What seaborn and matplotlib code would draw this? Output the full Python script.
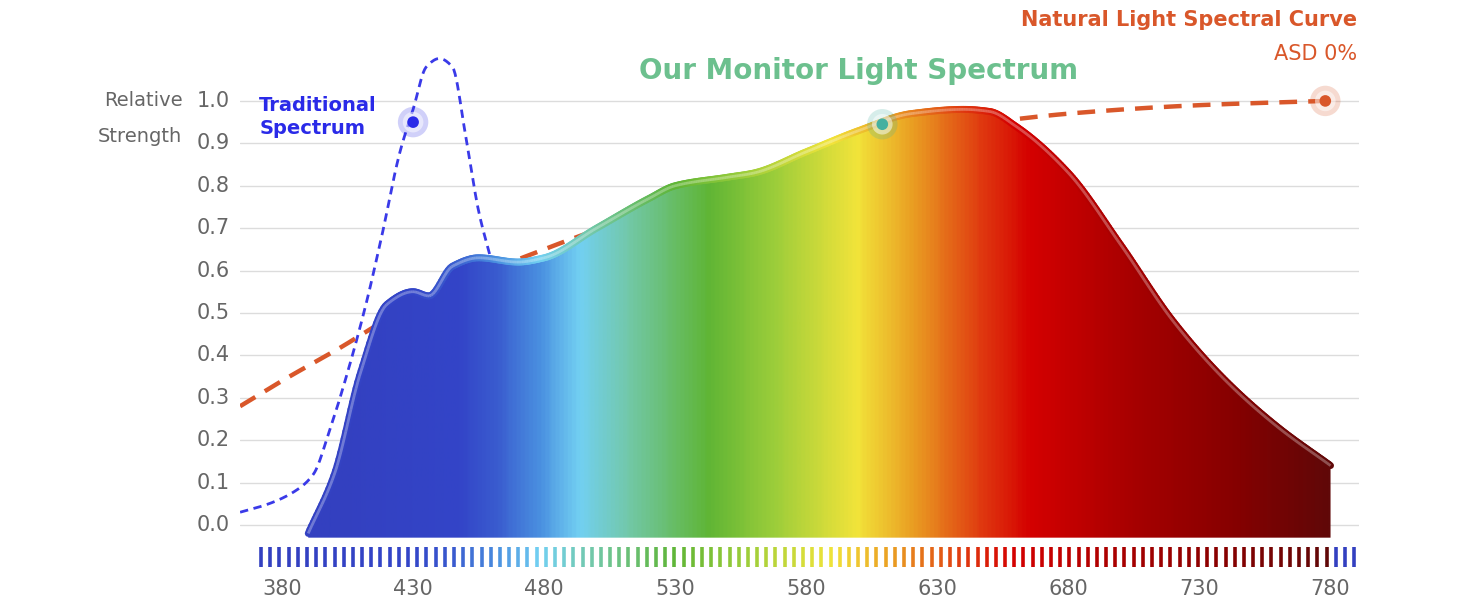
import numpy as np
import matplotlib
matplotlib.use("Agg")
import matplotlib.pyplot as plt
import seaborn as sns
from matplotlib.colors import LinearSegmentedColormap
from matplotlib.patches import Polygon
from matplotlib.collections import LineCollection

sns.set_theme(style="white")
plt.rcParams['font.family'] = ['DejaVu Sans']

# data
mon_wl = [390, 400, 410, 420, 430, 436, 445, 455, 470, 480, 500, 520, 530, 550, 560, 580, 600, 620, 640, 650, 660, 680, 700, 720, 740, 760, 780]
mon_val = [-0.02, 0.12, 0.36, 0.52, 0.55, 0.54, 0.61, 0.63, 0.62, 0.63, 0.70, 0.77, 0.80, 0.82, 0.83, 0.88, 0.93, 0.97, 0.98, 0.975, 0.94, 0.83, 0.66, 0.48, 0.34, 0.23, 0.14]
trad_wl = [364, 375, 385, 392, 398, 405, 412, 418, 425, 430, 435, 440, 445, 450, 455, 460]
trad_val = [0.03, 0.05, 0.08, 0.12, 0.22, 0.36, 0.52, 0.68, 0.88, 0.98, 1.08, 1.10, 1.08, 0.92, 0.74, 0.62]
nat_wl = [364, 380, 400, 430, 480, 530, 580, 630, 680, 730, 778]
nat_val = [0.28, 0.34, 0.41, 0.52, 0.65, 0.76, 0.86, 0.93, 0.97, 0.99, 1.0]
y_ticks = [0.0, 0.1, 0.2, 0.3, 0.4, 0.5, 0.6, 0.7, 0.8, 0.9, 1.0]
x_ticks = [380, 430, 480, 530, 580, 630, 680, 730, 780]


def pchip(x, y, xn):
    x = np.asarray(x, float); y = np.asarray(y, float)
    h = np.diff(x); d = np.diff(y) / h
    m = np.zeros_like(y)
    for k in range(1, len(x) - 1):
        if d[k - 1] * d[k] > 0:
            w1 = 2 * h[k] + h[k - 1]; w2 = h[k] + 2 * h[k - 1]
            m[k] = (w1 + w2) / (w1 / d[k - 1] + w2 / d[k])
    m[0] = d[0]; m[-1] = d[-1]
    i = np.clip(np.searchsorted(x, xn) - 1, 0, len(x) - 2)
    t = (xn - x[i]) / h[i]
    h00 = 2 * t**3 - 3 * t**2 + 1; h10 = t**3 - 2 * t**2 + t
    h01 = -2 * t**3 + 3 * t**2; h11 = t**3 - t**2
    return h00 * y[i] + h10 * h[i] * m[i] + h01 * y[i + 1] + h11 * h[i] * m[i + 1]


stops = [(430, "#3345c8"), (445, "#3a5ccf"), (462, "#4a90e0"), (478, "#72d0f2"), (498, "#72c8a8"),
         (530, "#5fb535"), (555, "#98cc3a"), (590, "#f2e43a"), (612, "#eaa023"), (640, "#e03a10"),
         (660, "#d40000"), (700, "#a80000"), (740, "#880000"), (780, "#600808")]
lo, hi = 380, 780
cmap = LinearSegmentedColormap.from_list("spec", [(0, "#3340c0")] + [((w - lo) / (hi - lo), c) for w, c in stops])

fig = plt.figure(figsize=(14.64, 6.0), dpi=100)
ax = fig.add_axes([0.164, 0, 0.764, 1])
ax.set_xlim(364, 790.7)
ax.set_ylim(-0.177, 1.238)
ax.axis("off")

for y in y_ticks:
    ax.plot([364, 790.7], [y, y], color="#dcdcdc", lw=1, zorder=0)
    ax.text(360, y, f"{y:.1f}", ha="right", va="center", fontsize=15, color="#666666")
ax.text(342, 1.0, "Relative", ha="right", va="center", fontsize=14, color="#666666")
ax.text(342, 0.915, "Strength", ha="right", va="center", fontsize=14, color="#666666")

# gradient fill
wl_f = np.linspace(390, 780, 600)
top = pchip(mon_wl, mon_val, wl_f)
poly_x = np.concatenate([wl_f, [780, 390]])
poly_y = np.concatenate([top, [-0.03, -0.03]])
grad = np.linspace(0, 1, 500).reshape(1, -1)
im = ax.imshow(grad, extent=[390, 780, -0.03, 1.0], aspect="auto", cmap=cmap, zorder=2,
               vmin=(390 - lo) / (hi - lo), vmax=1)
clip = Polygon(np.column_stack([poly_x, poly_y]), closed=True, transform=ax.transData, facecolor="none", edgecolor="none")
ax.add_patch(clip)
im.set_clip_path(clip)

pts = np.column_stack([wl_f, top]).reshape(-1, 1, 2)
segs = np.concatenate([pts[:-1], pts[1:]], axis=1)
cols = [cmap(min(1, max(0, (w - lo) / (hi - lo)))) for w in wl_f[:-1]]
ax.add_collection(LineCollection(segs, colors=cols, linewidths=5, zorder=3, capstyle="round"))
ax.add_collection(LineCollection(segs, colors=[(1, 1, 1, 0.3)] * len(segs), linewidths=2, zorder=3))

tx = np.linspace(364, 460, 200)
sns.lineplot(x=tx, y=pchip(trad_wl, trad_val, tx), ax=ax, color="#3a3ae8", lw=2, linestyle=(0, (3, 2)), zorder=1)
nx = np.linspace(364, 778, 300)
sns.lineplot(x=nx, y=pchip(nat_wl, nat_val, nx), ax=ax, color="#d9572a", lw=3.2, linestyle=(0, (4, 2.5)), zorder=1.5)

# tick bars
tw = np.linspace(372, 789, 120)
ax.scatter(tw, np.full(len(tw), -0.075), marker="|", s=200, linewidths=2.6,
           c=[cmap(min(1, max(0, (w - lo) / (hi - lo)))) for w in tw], zorder=3, clip_on=False)
for x in x_ticks:
    ax.text(x, -0.15, str(x), ha="center", va="center", fontsize=15, color="#666666")

for (x, y, c) in [(430, 0.95, "#2a2ae8"), (609, 0.945, "#45b0a0"), (778, 1.0, "#d9572a")]:
    ax.scatter([x], [y], s=480, color=c, alpha=0.22, zorder=5, edgecolors="none")
    ax.scatter([x], [y], s=220, color="white", alpha=0.5, zorder=5, edgecolors="none")
    ax.scatter([x], [y], s=70, color=c, zorder=6, edgecolors="none")

ax.text(416, 0.99, "Traditional", ha="right", va="center", fontsize=14, fontweight="bold", color="#2a2ae8")
ax.text(412, 0.935, "Spectrum", ha="right", va="center", fontsize=14, fontweight="bold", color="#2a2ae8")
ax.text(600, 1.07, "Our Monitor Light Spectrum", ha="center", va="center", fontsize=20, fontweight="bold", color="#6cc08e")
ax.text(790, 1.19, "Natural Light Spectral Curve", ha="right", va="center", fontsize=15, fontweight="bold", color="#d9572a")
ax.text(790, 1.11, "ASD 0%", ha="right", va="center", fontsize=15, color="#d9572a")

fig.savefig("out.png", dpi=100)
